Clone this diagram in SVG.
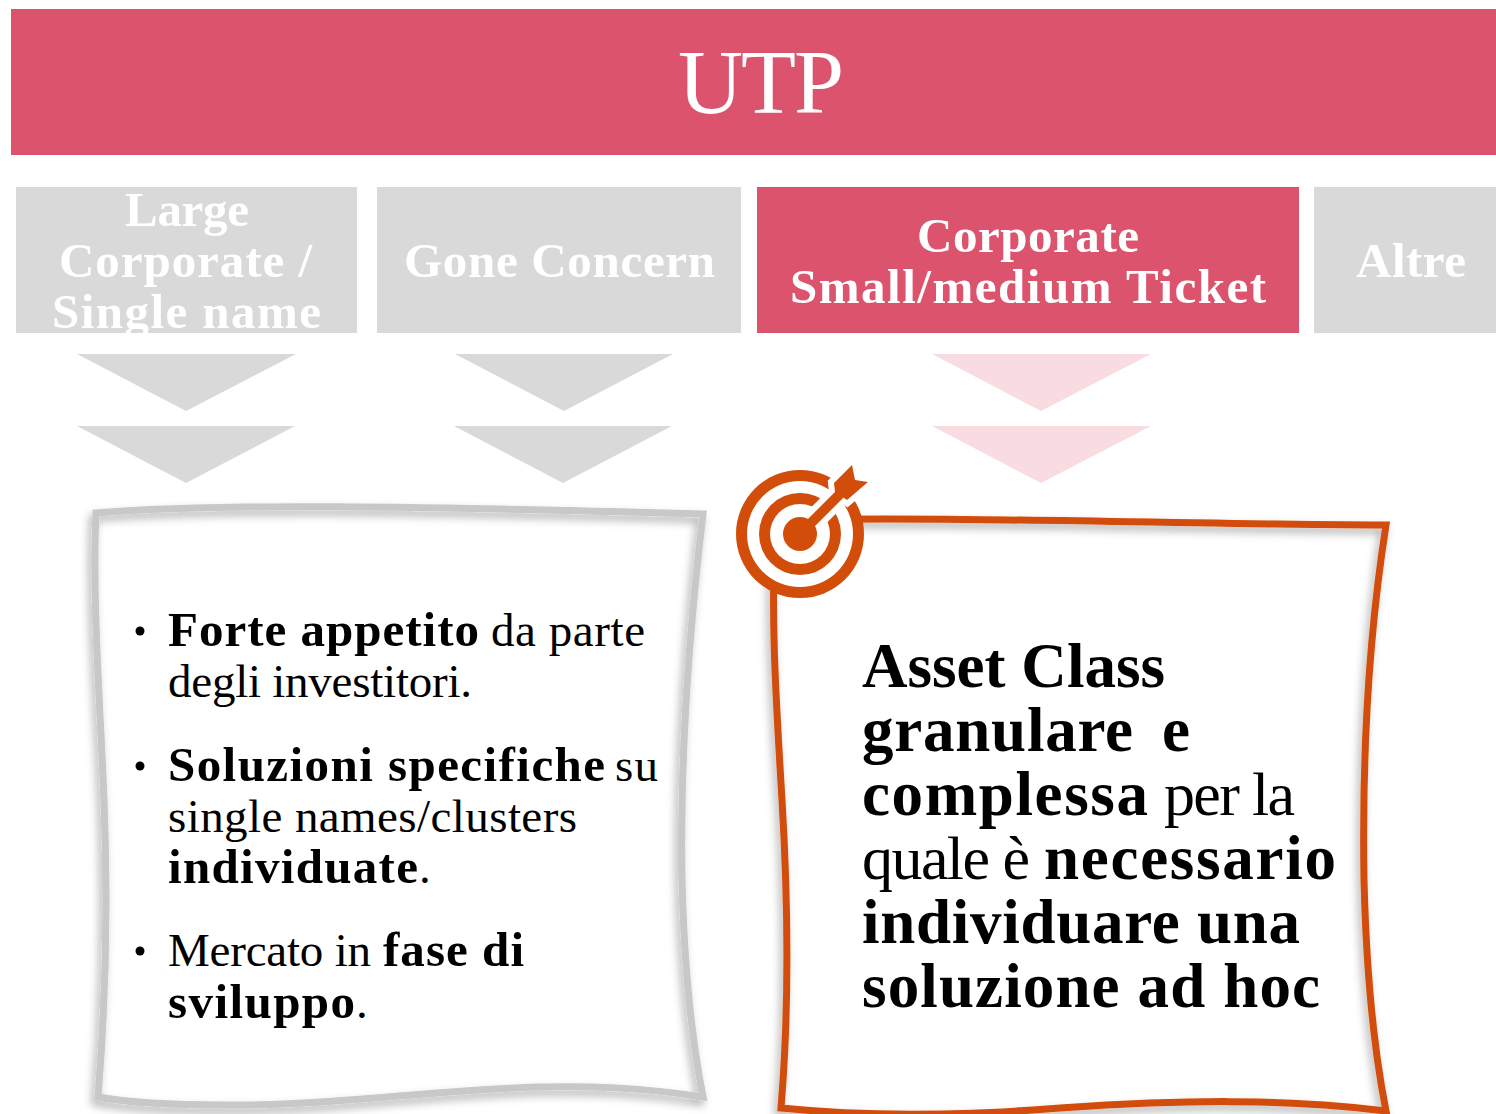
<svg xmlns="http://www.w3.org/2000/svg" width="1496" height="1114" viewBox="0 0 1496 1114">
<defs>
<style>
text{font-family:"Liberation Serif","DejaVu Serif",serif}
.h{font-size:49px;font-weight:700;fill:#fff}
.b{font-size:47px;fill:#000}
.c{font-size:62px;fill:#000}
.b.w{font-size:49px;font-weight:700}
.c.w{font-size:63px;font-weight:700}
.g{fill:#d9d9d9}
.p{fill:#f9dce1}
.r{fill:#dc536d}
.o{fill:#d24d0a}
</style>
<filter id="s" x="-8%" y="-8%" width="116%" height="116%"><feDropShadow dx="-3" dy="5" stdDeviation="4" flood-color="#000" flood-opacity=".3"/></filter>
<clipPath id="c1"><rect x="16" y="187" width="341" height="146"/></clipPath>
</defs>
<rect width="1496" height="1114" fill="#fff"/>
<g id="header"><rect class="r" x="11" y="9" width="1485" height="146"/><text x="678" y="113" font-size="90" fill="#fff" textLength="166">UTP</text></g>
<g id="n1" clip-path="url(#c1)"><rect class="g" x="16" y="187" width="341" height="146"/><text class="h" x="125" y="226" textLength="124">Large</text><text class="h" x="59" y="277" textLength="253">Corporate /</text><text class="h" x="52" y="328" textLength="269">Single name</text></g>
<g id="n2"><rect class="g" x="377" y="187" width="364" height="146"/><text class="h" x="404" y="277" textLength="311">Gone Concern</text></g>
<g id="n3"><rect class="r" x="757" y="187" width="542" height="146"/><text class="h" x="917" y="252" textLength="222">Corporate</text><text class="h" x="790" y="303" textLength="476">Small/medium Ticket</text></g>
<g id="n4"><rect class="g" x="1314" y="187" width="182" height="146"/><text class="h" x="1356" y="277" textLength="110">Altre</text></g>
<g id="connectors">
<polygon class="g" points="77,354 296,354 186,411"/><polygon class="g" points="77,426 295,426 186,483"/>
<polygon class="g" points="455,354 673,354 564,411"/><polygon class="g" points="454,426 672,426 563,483"/>
<polygon class="p" points="932,354 1151,354 1041,411"/><polygon class="p" points="932,426 1151,426 1041,483"/>
</g>
<g id="box-left">
<path d="M96 513C210 503 420 506 703 514C688 640 680 760 682 880C684 960 690 1030 703 1097C640 1087 590 1086 539 1087C430 1090 330 1106 226 1105C170 1105 130 1103 98 1097C106 1000 108 900 104 800C100 700 92 600 96 513Z" fill="none" stroke="#c8c8c8" stroke-width="7" filter="url(#s)"/>
<circle cx="140" cy="631" r="4.5"/><circle cx="140" cy="766" r="4.5"/><circle cx="140" cy="951" r="4.5"/>
<text class="b w" x="168" y="646" textLength="311">Forte appetito</text><text class="b" x="491" y="646" textLength="154">da parte</text>
<text class="b" x="168" y="697" textLength="304">degli investitori.</text>
<text class="b w" x="168" y="781" textLength="437">Soluzioni specifiche</text><text class="b" x="615" y="781" textLength="43">su</text>
<text class="b" x="168" y="832" textLength="409">single names/clusters</text>
<text class="b w" x="168" y="883" textLength="250">individuate</text><text class="b" x="419" y="883">.</text>
<text class="b" x="168" y="966" textLength="203">Mercato in</text><text class="b w" x="383" y="966" textLength="141">fase di</text>
<text class="b w" x="168" y="1018" textLength="187">sviluppo</text><text class="b" x="356" y="1018">.</text>
</g>
<g id="box-right">
<path d="M776 520C950 516 1160 524 1386 525C1368 640 1362 760 1364 880C1366 960 1372 1040 1386 1111C1280 1098 1180 1100 1060 1108C960 1116 860 1116 781 1108C790 1000 788 900 782 800C776 700 770 610 776 520Z" fill="none" stroke="#d24d0a" stroke-width="7" filter="url(#s)"/>
<text class="c w" x="862" y="687" textLength="303">Asset Class</text>
<text class="c w" x="862" y="751" textLength="271">granulare</text><text class="c w" x="1162" y="751" textLength="28">e</text>
<text class="c w" x="862" y="815" textLength="286">complessa</text><text class="c" x="1164" y="815" textLength="131">per la</text>
<text class="c" x="862" y="879" textLength="168">quale è</text><text class="c w" x="1044" y="879" textLength="292">necessario</text>
<text class="c w" x="862" y="943" textLength="438">individuare una</text>
<text class="c w" x="862" y="1007" textLength="458">soluzione ad hoc</text>
</g>
<g id="target">
<circle cx="800" cy="534" r="64" class="o"/><circle cx="800" cy="534" r="53" fill="#fff"/><circle cx="800" cy="534" r="41" class="o"/><circle cx="800" cy="534" r="30" fill="#fff"/>
<path d="M806 528L845 489" stroke="#fff" stroke-width="22" fill="none"/>
<polygon points="852,465 834,483 835,492 847,500 868,482 855,480" fill="#fff" stroke="#fff" stroke-width="12"/>
<circle cx="800" cy="534" r="17" class="o"/>
<path d="M800 534L845 489" stroke="#d24d0a" stroke-width="10" fill="none"/>
<polygon points="852,465 834,483 835,492 847,500 868,482 855,480" class="o"/>
</g>
</svg>
